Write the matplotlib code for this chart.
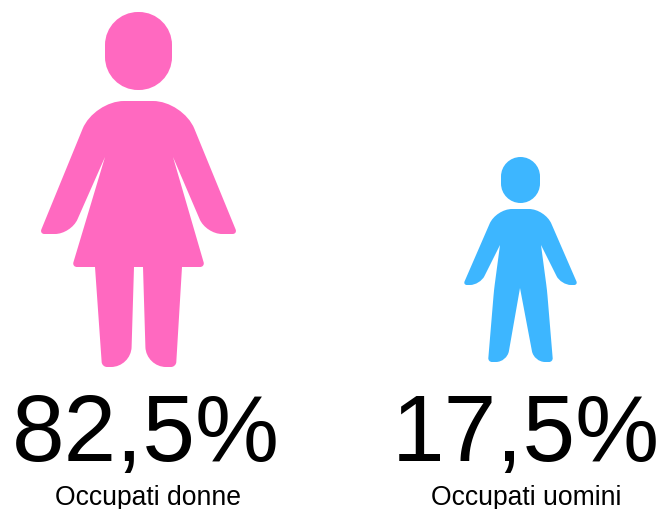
import matplotlib
matplotlib.use("Agg")
import matplotlib.pyplot as plt
import numpy as np
from matplotlib.path import Path
from matplotlib.patches import PathPatch

W, H = 659, 509
labels = ["Occupati donne", "Occupati uomini"]
values = ["82,5%", "17,5%"]
colors = ["#FF69C0", "#3DB6FF"]
value_x = [146, 526]
label_x = [148, 526.5]

# pictograms: (x, y, corner radius)
woman_head = [(105,12,33),(172,12,33),(172,90,33),(105,90,33)]
woman_body = [
    (183,101,30),(237.5,234,5),(206,234,16),(173,157,0),(205,267,5),(182,267,0),
    (176,367,5),(146,367,20),(143,267,0),(134,267,0),(131,367,20),(102,367,5),
    (95,267,0),(72,267,5),(105,157,0),(71,234,16),(39.5,234,5),(94,101,30),
]
man_head = [(501,157,19.5),(540,157,19.5),(540,203,19.5),(501,203,19.5)]
man_body = [
    (545,209,16),(578,285,4),(561,285,10),(541,245,0),(547,290,6),(553,362,4),
    (534,362,11),(520,288,0),(507,362,11),(488,362,4),(494,290,6),(500,245,0),
    (480,285,10),(463,285,4),(496,209,16),
]


def rounded(pts):
    """Closed path through the corner points, each corner rounded by its radius."""
    pts = [np.array(p, dtype=float) for p in pts]
    n = len(pts)
    verts, codes = [], []
    for i in range(n):
        p = pts[i][:2]
        r = pts[i][2]
        a = pts[i - 1][:2]
        b = pts[(i + 1) % n][:2]
        da, db = a - p, b - p
        la, lb = np.hypot(*da), np.hypot(*db)
        s = p + da / la * r
        e = p + db / lb * r
        verts.append(s)
        codes.append(Path.MOVETO if i == 0 else Path.LINETO)
        if r > 0:
            k = 0.55
            verts += [s + (p - s) * k, e + (p - e) * k, e]
            codes += [Path.CURVE4] * 3
    verts.append(verts[0])
    codes.append(Path.CLOSEPOLY)
    return Path(verts, codes)


plt.rcParams["font.family"] = ["Liberation Sans", "DejaVu Sans"]
fig = plt.figure(figsize=(W / 100, H / 100), dpi=100)
ax = fig.add_axes([0, 0, 1, 1])
ax.set_xlim(0, W)
ax.set_ylim(H, 0)
ax.axis("off")
for pts, c in [(woman_head, colors[0]), (woman_body, colors[0]),
               (man_head, colors[1]), (man_body, colors[1])]:
    ax.add_patch(PathPatch(rounded(pts), fc=c, ec="none"))
for vx, lx, v, l in zip(value_x, label_x, values, labels):
    ax.text(vx, 461, v, ha="center", va="baseline", fontsize=68)
    ax.text(lx, 505, l, ha="center", va="baseline", fontsize=19.1)
fig.savefig("out.png", dpi=100)
